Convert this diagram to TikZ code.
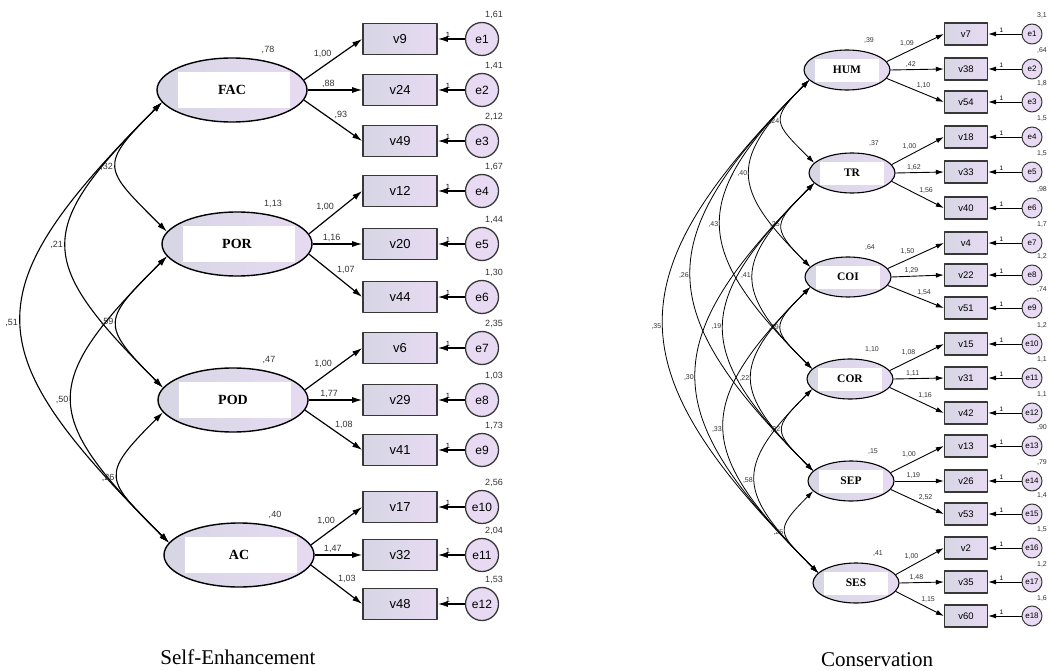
\documentclass[tikz,border=0pt]{standalone}
\usepackage{fontspec}
\setmainfont{Liberation Serif}
\setsansfont{Liberation Sans}
\usetikzlibrary{arrows.meta,shapes.geometric}
\definecolor{lavend}{RGB}{231,218,242}
\definecolor{lavgray}{RGB}{214,214,228}
\definecolor{framegray}{RGB}{55,55,55}
\tikzset{
 latL/.style={ellipse,draw=black,line width=1.4pt,minimum width=150pt,minimum height=64pt,inner sep=0pt,left color=lavgray,right color=lavend,font=\fontsize{14}{16}\selectfont\bfseries,
  path picture={\fill[white] ([shift={(21pt,14pt)}]path picture bounding box.south west) rectangle ([shift={(-17pt,-14pt)}]path picture bounding box.north east);}},
 latR/.style={ellipse,draw=black,line width=1.1pt,minimum width=86pt,minimum height=40pt,inner sep=0pt,left color=lavgray,right color=lavend,font=\fontsize{11.5}{13}\selectfont\bfseries,
  path picture={\fill[white] ([shift={(11pt,8pt)}]path picture bounding box.south west) rectangle ([shift={(-11pt,-9pt)}]path picture bounding box.north east);}},
 obsL/.style={draw=framegray,line width=1.6pt,minimum width=74pt,minimum height=31pt,inner sep=0pt,left color=lavgray,right color=lavend,font=\fontsize{13}{15}\selectfont\sffamily},
 obsR/.style={draw=framegray,line width=1.2pt,minimum width=43pt,minimum height=22pt,inner sep=0pt,left color=lavgray,right color=lavend,font=\fontsize{9.5}{11}\selectfont\sffamily},
 errL/.style={circle,draw=framegray,line width=1.3pt,minimum size=33pt,inner sep=0pt,fill=lavend,font=\fontsize{12}{14}\selectfont\sffamily},
 errR/.style={circle,draw=framegray,line width=1pt,minimum size=20pt,inner sep=0pt,fill=lavend,font=\fontsize{8}{9}\selectfont\sffamily},
 pathL/.style={-{Latex[length=10pt,width=6pt]},line width=1.2pt},
 pathR/.style={-{Latex[length=8pt,width=5pt]},line width=.9pt},
 covL/.style={{Latex[length=10pt,width=6pt]}-{Latex[length=10pt,width=6pt]},line width=1.1pt},
 covR/.style={{Latex[length=8pt,width=5pt]}-{Latex[length=8pt,width=5pt]},line width=.8pt},
 numL/.style={font=\fontsize{9}{10}\selectfont\sffamily,inner sep=1pt,text=black!80},
 numR/.style={font=\fontsize{7}{8}\selectfont\sffamily,inner sep=1pt,text=black!80},
 oneL/.style={font=\fontsize{7.5}{8}\selectfont\sffamily,inner sep=1pt},
 oneR/.style={font=\fontsize{6.5}{7}\selectfont\sffamily,inner sep=1pt},
 lu/.style={pos=.5,above left=0pt},
 lm/.style={pos=.38,above=1pt},
 ld/.style={pos=.5,above right=0pt},
 panelcap/.style={font=\fontsize{21}{24}\selectfont}
}
\begin{document}
\begin{tikzpicture}[x=1pt,y=-1pt,line join=round]
\useasboundingbox (0,0) rectangle (1049,671);
% --- Self-Enhancement
\foreach \lv/\x/\y/\ph in {FAC/232/90/{,78},POR/237/244/{1,13},POD/233/400/{,47},AC/239/555/{,40}}{
  \node[latL] (\lv) at (\x,\y) {\lv};
  \node[numL] at ([shift={(36,-7)}]\lv.north) {\ph};
}
\foreach \lv/\a/\lp/\v/\vy/\lam/\e/\ev in {
  FAC/8/lu/v9/39/{1,00}/e1/{1,61}, FAC/0/lm/v24/90/{,88}/e2/{1,41}, FAC/352/ld/v49/141/{,93}/e3/{2,12},
  POR/8/lu/v12/191/{1,00}/e4/{1,67}, POR/0/lm/v20/244/{1,16}/e5/{1,44}, POR/352/ld/v44/297/{1,07}/e6/{1,30},
  POD/8/lu/v6/348/{1,00}/e7/{2,35}, POD/0/lm/v29/400/{1,77}/e8/{1,03}, POD/352/ld/v41/450/{1,08}/e9/{1,73},
  AC/8/lu/v17/507/{1,00}/e10/{2,56}, AC/0/lm/v32/555/{1,47}/e11/{2,04}, AC/352/ld/v48/604/{1,03}/e12/{1,53}}{
  \node[obsL] (\v) at (400,\vy) {\v};
  \node[errL] (se-\e) at (482,\vy) {\e};
  \node[numL] at ([shift={(12,-24)}]se-\e.center) {\ev};
  \draw[pathL] (se-\e) -- node[oneL,pos=.62,above] {1} (\v);
  \draw[pathL] (\lv.\a) -- node[numL,\lp] {\lam} (\v.west);
}
\foreach \p/\q/\k/\r in {FAC/POR/1/{,32},FAC/POD/2/{,21},FAC/AC/3/{,51},POR/POD/1/{,59},POR/AC/2/{,50},POD/AC/1/{,26}}
  \draw[covL] (\p.190) .. controls +({-64*\k},{64*\k}) and +({-64*\k},{-64*\k}) .. (\q.170) node[numL,pos=.5,left=2pt] {\r};
\node[panelcap] (capSE) at (238,657) {Self-Enhancement};
% --- Conservation
\foreach \lv/\x/\y/\ph in {HUM/847/70/{,39},TR/852/173/{,37},COI/848/277/{,64},COR/850/379/{1,10},SEP/851/481/{,15},SES/856/583/{,41}}{
  \node[latR] (\lv) at (\x,\y) {\lv};
  \node[numR] at ([shift={(22,-9)}]\lv.north) {\ph};
}
\foreach \lv/\a/\lp/\v/\vy/\lam/\e/\ev in {
  HUM/12/lu/v7/34/{1,09}/e1/{3,1}, HUM/0/lm/v38/69/{,42}/e2/{,64}, HUM/348/ld/v54/102/{1,10}/e3/{1,8},
  TR/12/lu/v18/137/{1,00}/e4/{1,5}, TR/0/lm/v33/172/{1,62}/e5/{1,5}, TR/348/ld/v40/208/{1,56}/e6/{,98},
  COI/12/lu/v4/243/{1,50}/e7/{1,7}, COI/0/lm/v22/275/{1,29}/e8/{1,2}, COI/348/ld/v51/308/{1,54}/e9/{,74},
  COR/12/lu/v15/344/{1,08}/e10/{1,2}, COR/0/lm/v31/378/{1,11}/e11/{1,1}, COR/348/ld/v42/413/{1,16}/e12/{1,1},
  SEP/12/lu/v13/446/{1,00}/e13/{,90}, SEP/0/lm/v26/481/{1,19}/e14/{,79}, SEP/348/ld/v53/514/{2,52}/e15/{1,4},
  SES/12/lu/v2/548/{1,00}/e16/{1,5}, SES/0/lm/v35/582/{1,48}/e17/{1,2}, SES/348/ld/v60/616/{1,15}/e18/{1,6}}{
  \node[obsR] (\v) at (966,\vy) {\v};
  \node[errR] (co-\e) at (1032,\vy) {\e};
  \node[numR] at ([shift={(10,-18)}]co-\e.center) {\ev};
  \draw[pathR] (co-\e) -- node[oneR,pos=.6,above] {1} (\v);
  \draw[pathR] (\lv.\a) -- node[numR,\lp] {\lam} (\v.west);
}
\foreach \p/\q/\k/\r in {HUM/TR/1/{,24},HUM/COI/2/{,40},HUM/COR/3/{,43},HUM/SEP/4/{,26},HUM/SES/5/{,35},
  TR/COI/1/{,25},TR/COR/2/{,41},TR/SEP/3/{,19},TR/SES/4/{,30},
  COI/COR/1/{,59},COI/SEP/2/{,22},COI/SES/3/{,33},
  COR/SEP/1/{,32},COR/SES/2/{,58},SEP/SES/1/{,25}}
  \draw[covR] (\p.195) .. controls +({-40*\k},{40*\k}) and +({-40*\k},{-40*\k}) .. (\q.165) node[numR,pos=.5,left=1pt] {\r};
\node[panelcap] (capCO) at (877,660) {Conservation};
\end{tikzpicture}
\end{document}
